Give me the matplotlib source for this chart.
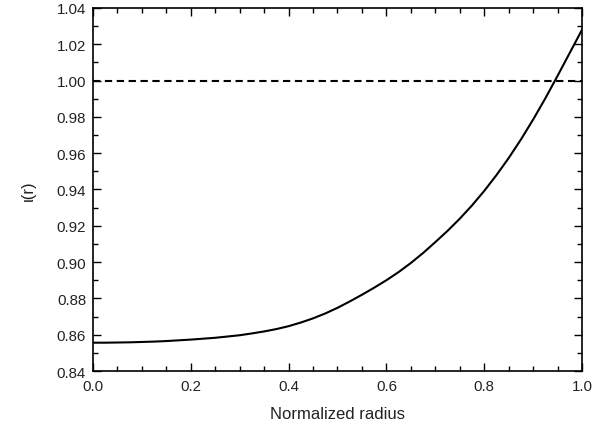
import matplotlib
matplotlib.use("Agg")
import matplotlib.pyplot as plt
from matplotlib.ticker import MultipleLocator

radius = [0.000, 0.025, 0.050, 0.075, 0.100, 0.125, 0.150, 0.175, 0.200,
          0.225, 0.250, 0.275, 0.300, 0.325, 0.350, 0.375, 0.400, 0.425,
          0.450, 0.475, 0.500, 0.525, 0.550, 0.575, 0.600, 0.625, 0.650,
          0.675, 0.700, 0.725, 0.750, 0.775, 0.800, 0.825, 0.850, 0.875,
          0.900, 0.925, 0.950, 0.975, 1.000]
iota = [0.8556, 0.8556, 0.8557, 0.8558, 0.8560, 0.8562, 0.8565, 0.8569, 0.8573,
        0.8578, 0.8583, 0.8590, 0.8597, 0.8607, 0.8618, 0.8631, 0.8647, 0.8667,
        0.8690, 0.8717, 0.8748, 0.8783, 0.8820, 0.8859, 0.8900, 0.8945, 0.8995,
        0.9050, 0.9110, 0.9172, 0.9239, 0.9312, 0.9392, 0.9479, 0.9573, 0.9675,
        0.9785, 0.9902, 1.0026, 1.0153, 1.0280]
reference_level = 1.0

xticks = [0.0, 0.2, 0.4, 0.6, 0.8, 1.0]
yticks = [0.84, 0.86, 0.88, 0.90, 0.92, 0.94, 0.96, 0.98, 1.00, 1.02, 1.04]

plt.rcParams['font.family'] = ['Liberation Sans', 'DejaVu Sans']

fig = plt.figure(figsize=(6.01, 4.27), dpi=100)
ax = fig.add_axes([0.1547, 0.1288, 0.8137, 0.8502])

ax.plot(radius, iota, color='black', lw=1.5, solid_joinstyle='round')
ax.axhline(reference_level, color='black', lw=1.5, linestyle=(0, (3.5, 2.2)))

ax.set_xlim(0, 1.0)
ax.set_ylim(0.84, 1.04)
ax.set_xticks(xticks)
ax.set_xticklabels([f"{v:.1f}" for v in xticks])
ax.set_yticks(yticks)
ax.set_yticklabels([f"{v:.2f}" for v in yticks])
ax.xaxis.set_minor_locator(MultipleLocator(0.05))
ax.yaxis.set_minor_locator(MultipleLocator(0.01))

ax.tick_params(which='both', direction='in', top=True, right=True,
               width=1.0, colors='black', labelcolor='#222222', labelsize=10.8)
ax.tick_params(which='major', length=6)
ax.tick_params(which='minor', length=3.5)
ax.tick_params(axis='x', pad=6)
ax.tick_params(axis='y', pad=5)
for s in ax.spines.values():
    s.set_linewidth(1.2)

ax.set_xlabel("Normalized radius", fontsize=12, color='#222222', labelpad=9)
ax.set_ylabel("ι(r)", fontsize=12, color='#222222', labelpad=15)

fig.savefig("out.png", dpi=100)
